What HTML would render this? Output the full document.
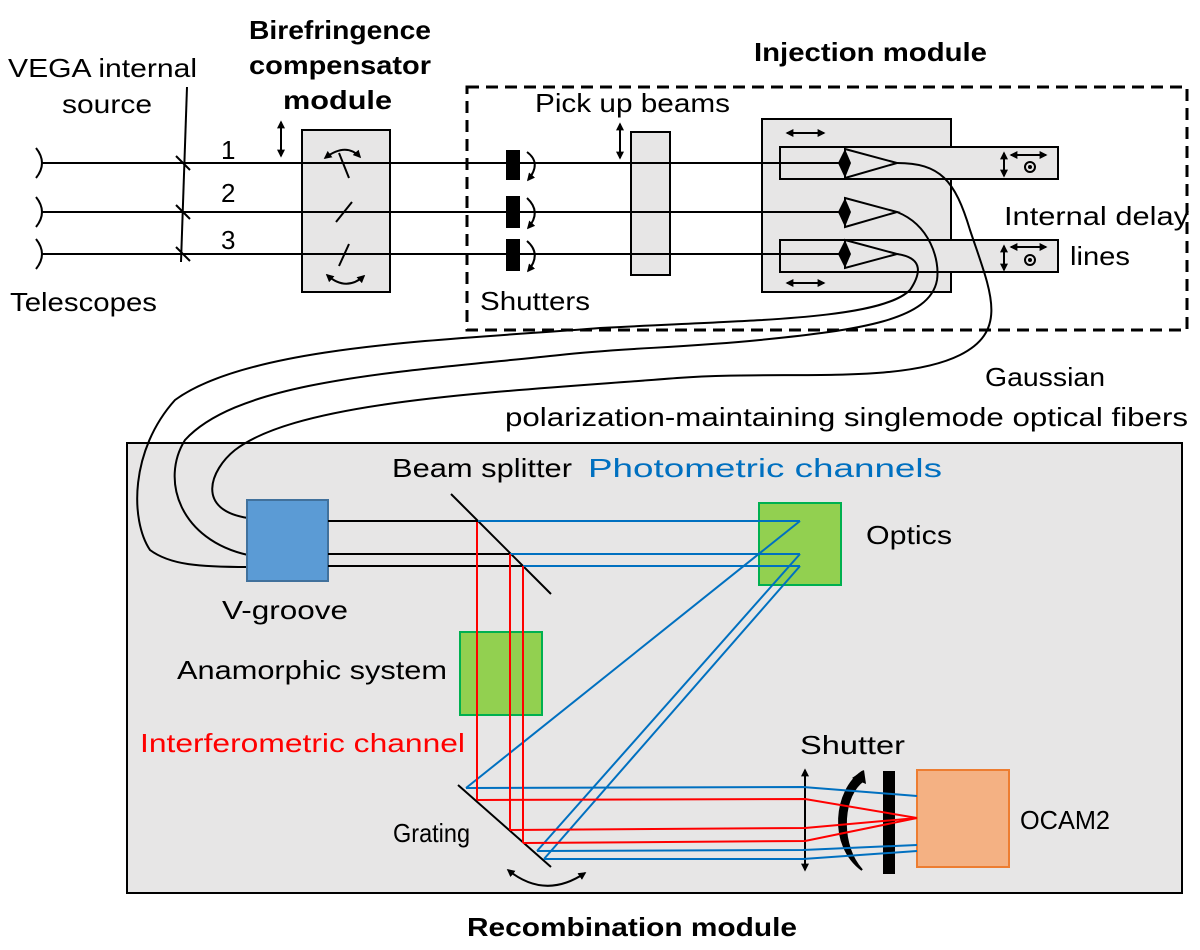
<!DOCTYPE html>
<html><head><meta charset="utf-8"><style>
html,body{margin:0;padding:0;background:#fff;}
svg{display:block;}
text{font-family:"Liberation Sans",sans-serif;font-size:26px;fill:#000;}
.b{font-weight:bold;}
</style></head><body>
<svg width="1200" height="950" viewBox="0 0 1200 950" xmlns="http://www.w3.org/2000/svg">
<defs>
<marker id="ah" viewBox="0 0 10 10" refX="8" refY="5" markerWidth="4" markerHeight="4" orient="auto-start-reverse"><path d="M0,0 L10,5 L0,10 z" fill="#000"/></marker>
</defs>

<!-- top texts -->
<text x="8" y="77" textLength="189" lengthAdjust="spacingAndGlyphs">VEGA internal</text>
<text x="62" y="113" textLength="90" lengthAdjust="spacingAndGlyphs">source</text>
<text x="10" y="311" textLength="147" lengthAdjust="spacingAndGlyphs">Telescopes</text>
<text class="b" x="249" y="39" textLength="182" lengthAdjust="spacingAndGlyphs">Birefringence</text>
<text class="b" x="249" y="74" textLength="182" lengthAdjust="spacingAndGlyphs">compensator</text>
<text class="b" x="283" y="109" textLength="109" lengthAdjust="spacingAndGlyphs">module</text>
<text class="b" x="754" y="61" textLength="233" lengthAdjust="spacingAndGlyphs">Injection module</text>
<text x="535" y="112" textLength="195" lengthAdjust="spacingAndGlyphs">Pick up beams</text>
<text x="480" y="310" textLength="110" lengthAdjust="spacingAndGlyphs">Shutters</text>
<text x="1004" y="225" textLength="185" lengthAdjust="spacingAndGlyphs">Internal delay</text>
<text x="1070" y="265" textLength="60" lengthAdjust="spacingAndGlyphs">lines</text>
<text x="985" y="386" textLength="120" lengthAdjust="spacingAndGlyphs">Gaussian</text>
<text x="505" y="426" textLength="683" lengthAdjust="spacingAndGlyphs">polarization-maintaining singlemode optical fibers</text>
<text x="221" y="159">1</text>
<text x="221" y="202">2</text>
<text x="221" y="249">3</text>

<!-- dashed injection box -->
<rect x="467" y="87" width="720" height="243" fill="none" stroke="#000" stroke-width="3" stroke-dasharray="12,7"/>

<!-- recombination box -->
<rect x="127" y="443" width="1055" height="450" fill="#e7e6e6" stroke="#000" stroke-width="2"/>

<!-- birefringence box -->
<rect x="302" y="130" width="88" height="162" fill="#e7e6e6" stroke="#000" stroke-width="2"/>
<!-- pick up box -->
<rect x="631" y="132" width="39" height="143" fill="#e7e6e6" stroke="#000" stroke-width="2"/>
<!-- injection inner box -->
<rect x="762" y="119" width="189" height="173" fill="#e7e6e6" stroke="#000" stroke-width="2"/>
<rect x="780" y="147" width="278" height="32" fill="#e7e6e6" stroke="#000" stroke-width="2"/>
<rect x="780" y="240" width="278" height="32" fill="#e7e6e6" stroke="#000" stroke-width="2"/>

<!-- beams -->
<g stroke="#000" stroke-width="2" fill="none">
<line x1="42" y1="163" x2="845" y2="163"/>
<line x1="42" y1="212" x2="845" y2="212"/>
<line x1="42" y1="254" x2="845" y2="254"/>
<path d="M36,148 Q48,163 36,178"/>
<path d="M36,197 Q48,212 36,227"/>
<path d="M36,239 Q48,254 36,269"/>
<line x1="187" y1="87" x2="181" y2="262"/>
<line x1="176" y1="156" x2="190" y2="170"/>
<line x1="176" y1="205" x2="190" y2="219"/>
<line x1="176" y1="247" x2="190" y2="261"/>
<!-- birefringence mirrors -->
<line x1="339" y1="153" x2="349" y2="178"/>
<line x1="336" y1="222" x2="352" y2="202"/>
<line x1="339" y1="266" x2="349" y2="244"/>
<path d="M325,158 Q346,142 360,157" marker-start="url(#ah)" marker-end="url(#ah)"/>
<path d="M327,275 Q346,292 364,276" marker-start="url(#ah)" marker-end="url(#ah)"/>
<line x1="281" y1="122" x2="281" y2="156" marker-start="url(#ah)" marker-end="url(#ah)"/>
<line x1="620" y1="124" x2="620" y2="158" marker-start="url(#ah)" marker-end="url(#ah)"/>
<!-- shutter arrows -->
<path d="M527,152 Q542,163 528,180" marker-end="url(#ah)"/>
<path d="M527,198 Q542,212 528,228" marker-end="url(#ah)"/>
<path d="M527,241 Q542,254 528,271" marker-end="url(#ah)"/>
<!-- small arrows injection -->
<line x1="787" y1="133" x2="824" y2="133" marker-start="url(#ah)" marker-end="url(#ah)"/>
<line x1="787" y1="283" x2="824" y2="283" marker-start="url(#ah)" marker-end="url(#ah)"/>
<line x1="1004" y1="153" x2="1004" y2="176" marker-start="url(#ah)" marker-end="url(#ah)"/>
<line x1="1011" y1="155" x2="1046" y2="155" marker-start="url(#ah)" marker-end="url(#ah)"/>
<line x1="1004" y1="246" x2="1004" y2="270" marker-start="url(#ah)" marker-end="url(#ah)"/>
<line x1="1011" y1="247" x2="1046" y2="247" marker-start="url(#ah)" marker-end="url(#ah)"/>
<circle cx="1030" cy="167" r="5"/>
<circle cx="1030" cy="260" r="5"/>
<!-- pyramids -->
<path d="M845,149 L897,163 L845,178 Z"/>
<path d="M845,198 L897,212 L845,227 Z"/>
<path d="M845,240 L897,254 L845,268 Z"/>
<!-- fibers -->
<path d="M897,163 C940,163 955,180 970,230 C990,290 1010,330 960,355 C900,385 780,370 677,378 C500,392 300,400 235,450 C210,470 195,510 248,518"/>
<path d="M897,212 C930,225 940,260 937,280 C930,320 860,330 760,340 C680,348 620,348 560,355 C400,372 240,380 185,440 C160,480 180,540 248,555"/>
<path d="M897,254 C925,258 920,275 910,290 C880,320 750,320 600,328 C450,340 250,345 175,400 C130,450 130,520 150,550 C170,565 200,567 248,567"/>
</g>
<g fill="#000">
<rect x="506" y="150" width="14" height="30"/>
<rect x="506" y="196" width="14" height="32"/>
<rect x="506" y="239" width="14" height="32"/>
<path d="M845,149 L851,163 L845,178 L838,163 Z"/>
<path d="M845,198 L851,212 L845,227 L838,212 Z"/>
<path d="M845,240 L851,254 L845,268 L838,254 Z"/>
<circle cx="1030" cy="167" r="2"/>
<circle cx="1030" cy="260" r="2"/>
</g>

<!-- recombination contents -->
<rect x="247" y="500" width="81" height="81" fill="#5b9bd5" stroke="#41719c" stroke-width="2"/>
<rect x="759" y="503" width="82" height="82" fill="#92d050" stroke="#00b050" stroke-width="2"/>
<rect x="460" y="632" width="82" height="83" fill="#92d050" stroke="#00b050" stroke-width="2"/>
<rect x="917" y="770" width="92" height="97" fill="#f4b183" stroke="#ed7d31" stroke-width="2"/>

<g stroke="#000" stroke-width="2" fill="none">
<line x1="328" y1="521" x2="478" y2="521"/>
<line x1="328" y1="554" x2="510" y2="554"/>
<line x1="328" y1="566" x2="523" y2="566"/>
<line x1="451" y1="494" x2="551" y2="594"/>
<line x1="458" y1="785" x2="551" y2="867"/>
<line x1="805" y1="770" x2="805" y2="870" marker-start="url(#ah)" marker-end="url(#ah)"/>
<path d="M508,870 Q545,900 585,873" marker-start="url(#ah)" marker-end="url(#ah)"/>
</g>
<path d="M862,772 C835,790 828,845 862,870 L858,865 C840,840 842,795 864,780 Z" fill="#000" stroke="#000" stroke-width="2"/>
<path d="M864,770 L852,778 L866,784 Z" fill="#000"/>
<rect x="883" y="771" width="12" height="103" fill="#000"/>

<g stroke="#0070c0" stroke-width="2" fill="none">
<line x1="478" y1="521" x2="800" y2="521"/>
<line x1="510" y1="554" x2="800" y2="554"/>
<line x1="523" y1="566" x2="800" y2="566"/>
<line x1="800" y1="521" x2="466" y2="788"/>
<line x1="800" y1="554" x2="537" y2="851"/>
<line x1="800" y1="566" x2="544" y2="859"/>
<polyline points="466,788 803,787 917,796"/>
<polyline points="537,851 803,850 917,845"/>
<polyline points="544,859 803,859 917,851"/>
</g>
<g stroke="#ff0000" stroke-width="2" fill="none">
<line x1="477" y1="522" x2="477" y2="800"/>
<line x1="510" y1="554" x2="510" y2="830"/>
<line x1="523" y1="566" x2="523" y2="843"/>
<polyline points="477,800 805,799 917,818"/>
<polyline points="510,830 805,828 917,818"/>
<polyline points="523,843 805,841 917,818"/>
</g>

<text x="392" y="477" textLength="180" lengthAdjust="spacingAndGlyphs">Beam splitter</text>
<text x="588" y="477" textLength="354" lengthAdjust="spacingAndGlyphs" style="fill:#0070c0">Photometric channels</text>
<text x="866" y="544" textLength="86" lengthAdjust="spacingAndGlyphs">Optics</text>
<text x="222" y="619" textLength="126" lengthAdjust="spacingAndGlyphs">V-groove</text>
<text x="177" y="679" textLength="270" lengthAdjust="spacingAndGlyphs">Anamorphic system</text>
<text x="140" y="752" textLength="325" lengthAdjust="spacingAndGlyphs" style="fill:#ff0000">Interferometric channel</text>
<text x="800" y="754" textLength="105" lengthAdjust="spacingAndGlyphs">Shutter</text>
<text x="393" y="842" textLength="77" lengthAdjust="spacingAndGlyphs">Grating</text>
<text x="1020" y="829" textLength="90" lengthAdjust="spacingAndGlyphs">OCAM2</text>
<text class="b" x="467" y="936" textLength="330" lengthAdjust="spacingAndGlyphs">Recombination module</text>
</svg>
</body></html>
